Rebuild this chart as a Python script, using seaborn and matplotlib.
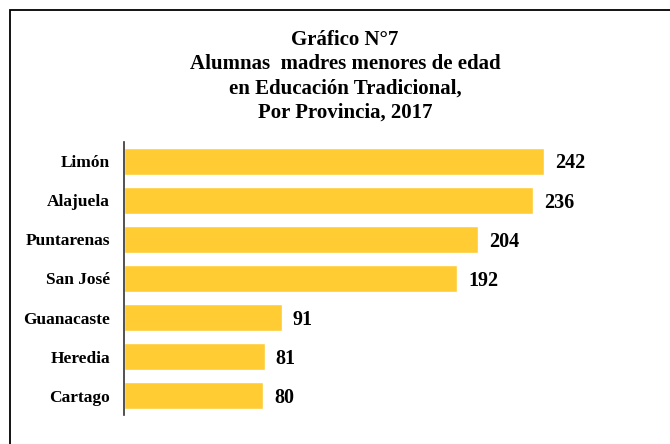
import matplotlib
matplotlib.use("Agg")
import matplotlib.pyplot as plt
import seaborn as sns
from matplotlib.patches import Rectangle

# data
provincias = ['Limón', 'Alajuela', 'Puntarenas', 'San José', 'Guanacaste', 'Heredia', 'Cartago']
alumnas = [242, 236, 204, 192, 91, 81, 80]

sns.set_style('white')
plt.rcParams['font.family'] = ['Liberation Serif', 'DejaVu Serif']
plt.rcParams['font.weight'] = 'bold'
plt.rcParams['text.color'] = 'black'
plt.rcParams['ytick.color'] = 'black'

fig = plt.figure(figsize=(6.7, 4.44), dpi=100)
ax = fig.add_axes([0.185, 0.065, 0.777, 0.6155])

sns.barplot(x=alumnas, y=provincias, orient='h', color='#FFCC33',
            saturation=1, width=0.69, ax=ax)

for i, v in enumerate(alumnas):
    ax.annotate(str(v), (v, i), xytext=(8, -1.5), textcoords='offset points',
                ha='left', va='center', fontsize=14.5, fontweight='bold')

ax.set_xlim(0, 300)
ax.set_ylim(6.5, -0.5)
ax.set_xticks([])
ax.set_xlabel('')
ax.set_ylabel('')
ax.tick_params(axis='y', length=0, pad=10, labelsize=12.5, labelcolor='black')
for lab in ax.get_yticklabels():
    lab.set_fontweight('bold')
for s in ['top', 'right', 'bottom']:
    ax.spines[s].set_visible(False)
ax.spines['left'].set_color('#333333')
ax.spines['left'].set_linewidth(1.2)

fig.text(0.515, 0.933,
         'Gráfico N°7\nAlumnas  madres menores de edad\nen Educación Tradicional,\nPor Provincia, 2017',
         ha='center', va='top', fontsize=15, fontweight='bold', linespacing=1.28)

# frame around the chart (top and left visible)
fig.patches.append(Rectangle((10 / 670, -0.1), 1.2, (444 - 10) / 444 + 0.1,
                             transform=fig.transFigure, fill=False,
                             edgecolor='black', linewidth=1.3))

fig.savefig('out.png', dpi=100)
